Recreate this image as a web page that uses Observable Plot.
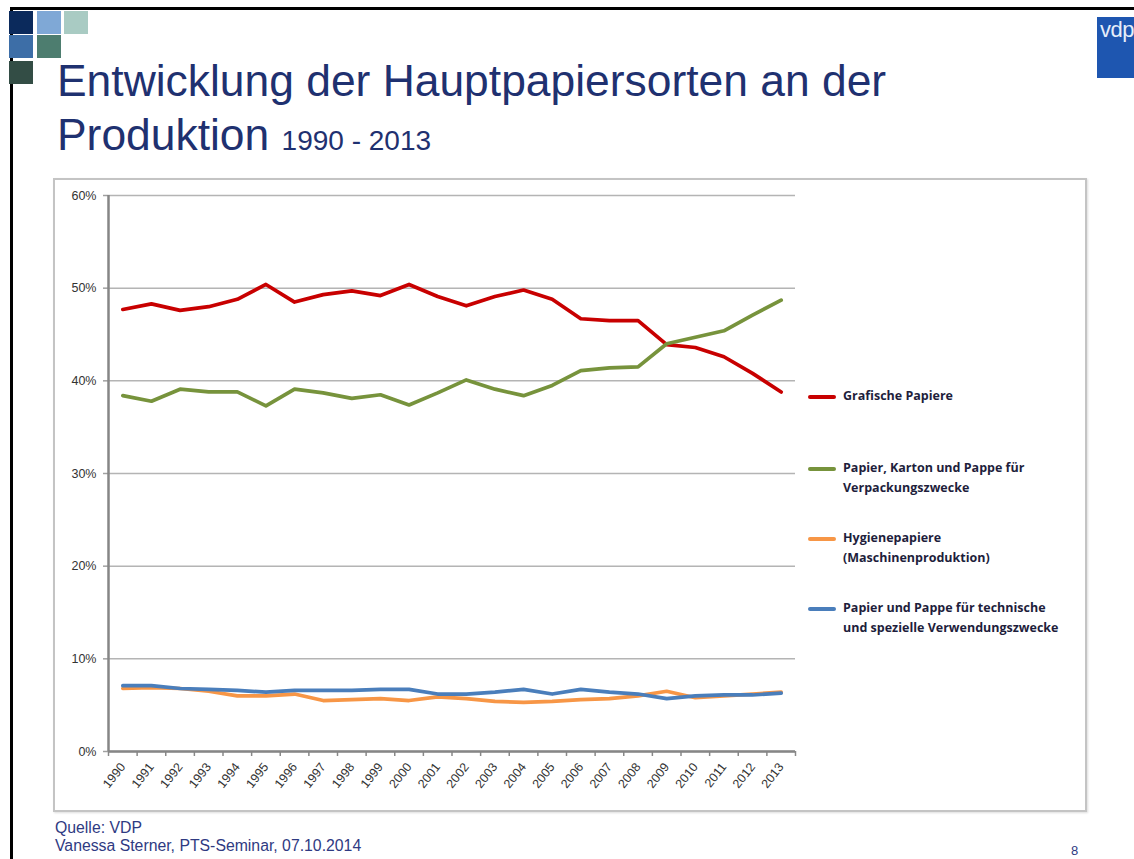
<!DOCTYPE html>
<html><head><meta charset="utf-8">
<script src="https://cdn.jsdelivr.net/npm/d3@7"></script>
<script src="https://cdn.jsdelivr.net/npm/@observablehq/plot@0.6"></script>
<style>
body{margin:0;background:#fff;width:1134px;height:859px;position:relative;overflow:hidden;font-family:"Liberation Sans",Arial,sans-serif;}
.abs{position:absolute;}
.sq{position:absolute;width:24px;height:23px;}
#title{left:57px;top:54px;color:#1f3170;font-size:44.4px;line-height:54px;white-space:nowrap;}
#title small{font-size:28px;}
#box{left:53px;top:178px;width:1030px;height:630px;border:2px solid #c4c4c4;box-shadow:1px 1px 2px #ddd;}
#chart{left:53px;top:178px;}
.leg{position:absolute;left:808px;font-family:"Open Sans",sans-serif;font-weight:700;font-size:12.5px;color:#1e1e3c;line-height:20px;white-space:nowrap;}
.leg i{position:absolute;left:0;top:9px;width:28px;height:4px;border-radius:2px;}
.leg span{display:block;margin-left:35px;}
#foot{left:55px;top:819px;color:#2f3a82;font-size:15.8px;line-height:18px;}
#page{left:1071px;top:843px;color:#2f3a82;font-size:13px;}
</style></head><body>
<div class="abs" style="left:10px;top:7px;width:1124px;height:3px;background:#000"></div>
<div class="abs" style="left:10px;top:7px;width:3px;height:852px;background:#000"></div>
<div class="sq" style="left:9px;top:11px;background:#0b2a5c"></div>
<div class="sq" style="left:37px;top:11px;background:#7fa8d6"></div>
<div class="sq" style="left:64px;top:11px;background:#a9cbc3"></div>
<div class="sq" style="left:9px;top:35px;background:#3d6ea7"></div>
<div class="sq" style="left:37px;top:35px;background:#4d7d6f"></div>
<div class="sq" style="left:9px;top:61px;background:#334d45"></div>
<div class="abs" style="left:1097px;top:17px;width:37px;height:61px;background:#1e56b0;overflow:hidden;">
  <div style="color:#e6eefa;font-size:22px;margin-left:3px;margin-top:0px;letter-spacing:-0.5px;">vdp</div>
</div>
<div id="title" class="abs">Entwicklung der Hauptpapiersorten an der<br>Produktion <small>1990 - 2013</small></div>
<div id="box" class="abs"></div>
<div id="chart" class="abs"></div>
<div id="legend"></div>
<div id="foot" class="abs">Quelle: VDP<br>Vanessa Sterner, PTS-Seminar, 07.10.2014</div>
<div id="page" class="abs">8</div>
<script>
const years = [1990,1991,1992,1993,1994,1995,1996,1997,1998,1999,2000,2001,2002,2003,2004,2005,2006,2007,2008,2009,2010,2011,2012,2013];
const grafische   = [47.7,48.3,47.6,48.0,48.8,50.4,48.5,49.3,49.7,49.2,50.4,49.1,48.1,49.1,49.8,48.8,46.7,46.5,46.5,43.9,43.6,42.6,40.8,38.8];
const verpackung  = [38.4,37.8,39.1,38.8,38.8,37.3,39.1,38.7,38.1,38.5,37.4,38.7,40.1,39.1,38.4,39.5,41.1,41.4,41.5,44.0,44.7,45.4,47.1,48.7];
const hygiene     = [6.8,6.9,6.8,6.5,6.0,6.0,6.2,5.5,5.6,5.7,5.5,5.9,5.7,5.4,5.3,5.4,5.6,5.7,6.0,6.5,5.8,6.0,6.2,6.4];
const technische  = [7.1,7.1,6.8,6.7,6.6,6.4,6.6,6.6,6.6,6.7,6.7,6.2,6.2,6.4,6.7,6.2,6.7,6.4,6.2,5.7,6.0,6.1,6.1,6.3];
const seriesNames = ["Grafische Papiere","Papier, Karton und Pappe für Verpackungszwecke","Hygienepapiere (Maschinenproduktion)","Papier und Pappe für technische und spezielle Verwendungszwecke"];
const legendLines = [["Grafische Papiere"],["Papier, Karton und Pappe für","Verpackungszwecke"],["Hygienepapiere","(Maschinenproduktion)"],["Papier und Pappe für technische","und spezielle Verwendungszwecke"]];
const seriesColors = ["#c80000","#77933c","#f79646","#4a7ebb"];
const yTicks = [0,0.1,0.2,0.3,0.4,0.5,0.6];
const boundaries = years.map(y => y - 0.5).concat([years[years.length-1] + 0.5]);

const allValues = [grafische, verpackung, hygiene, technische];
const data = allValues.flatMap((vals, s) => years.map((y, i) => ({year: y, value: vals[i] / 100, name: seriesNames[s]})));

const chart = Plot.plot({
  width: 1032, height: 632,
  marginLeft: 55, marginRight: 290, marginTop: 17, marginBottom: 59,
  style: {fontFamily: "'Liberation Sans', Arial, sans-serif", fontSize: "12.5px", color: "#333", background: "transparent"},
  x: {type: "linear", domain: [boundaries[0], boundaries[boundaries.length-1]]},
  y: {domain: [0, 0.6]},
  color: {domain: seriesNames, range: seriesColors},
  marks: [
    Plot.gridY(yTicks, {stroke: "#b4b4b4", strokeOpacity: 1, strokeWidth: 1.5}),
    Plot.axisY(yTicks, {tickFormat: d3.format(".0%"), tickSize: 5, tickPadding: 7, stroke: "#a0a0a0", strokeWidth: 1.5, fill: "#333", fontSize: 12.5, label: null}),
    Plot.axisX(boundaries, {tickSize: 5, stroke: "#888", strokeWidth: 1.5, text: null, label: null}),
    Plot.axisX(years, {tickSize: 0, tickPadding: 13, tickRotate: -52, tickFormat: d => String(d), fill: "#333", fontSize: 12.5, label: null}),
    Plot.ruleX([boundaries[0]], {stroke: "#868686", strokeWidth: 2.5}),
    Plot.ruleY([0], {stroke: "#868686", strokeWidth: 2.5}),
    Plot.line(data, {x: "year", y: "value", z: "name", stroke: "name", strokeWidth: 3.7, curve: "linear", strokeLinejoin: "round", strokeLinecap: "round"})
  ]
});
document.getElementById("chart").appendChild(chart);

const legTops = [386, 458, 528, 598];
const leg = document.getElementById("legend");
legendLines.forEach((lines, i) => {
  const d = document.createElement("div");
  d.className = "leg";
  d.style.top = legTops[i] + "px";
  const sw = document.createElement("i");
  sw.style.background = seriesColors[i];
  d.appendChild(sw);
  lines.forEach(t => { const s = document.createElement("span"); s.textContent = t; d.appendChild(s); });
  leg.appendChild(d);
});
</script>
</body></html>
